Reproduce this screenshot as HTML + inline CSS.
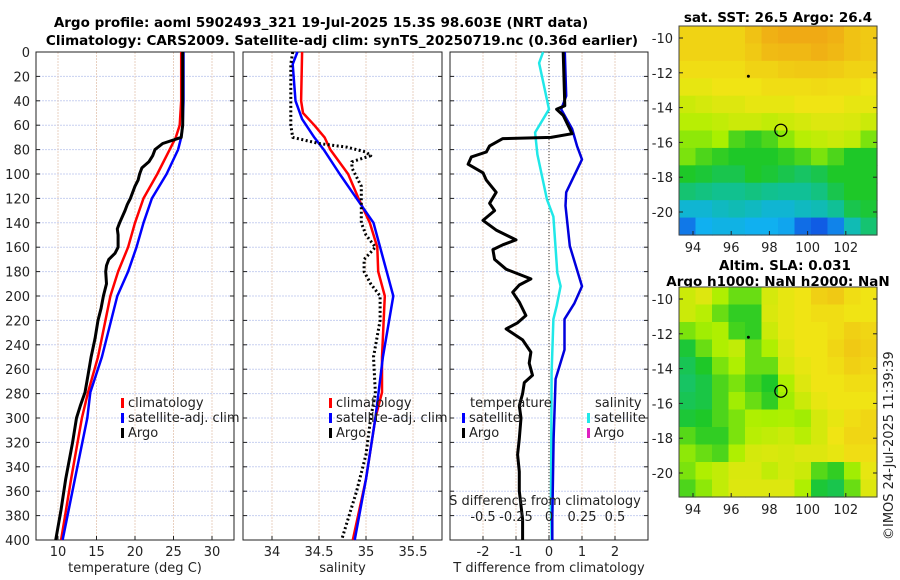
<!DOCTYPE html>
<html><head><meta charset="utf-8">
<style>
html,body{margin:0;padding:0;background:#fff;}
svg{display:block;font-family:"DejaVu Sans","Liberation Sans",sans-serif;}
.t{font-size:13px;fill:#222;}
.b{font-size:13.5px;font-weight:bold;fill:#000;}
</style></head>
<body>
<svg id="c" width="900" height="580" viewBox="0 0 900 580" xmlns="http://www.w3.org/2000/svg">
<text class="b" x="321" y="27" text-anchor="middle">Argo profile: aoml 5902493_321 19-Jul-2025 15.3S 98.603E (NRT data)</text>
<text class="b" x="342" y="45" text-anchor="middle">Climatology: CARS2009. Satellite-adj clim: synTS_20250719.nc (0.36d earlier)</text>
<text class="b" x="778" y="22" text-anchor="middle">sat. SST: 26.5 Argo: 26.4</text>
<text class="b" x="785" y="270" text-anchor="middle">Altim. SLA: 0.031</text>
<text class="b" x="778" y="286" text-anchor="middle">Argo h1000: NaN h2000: NaN</text>
<text class="t" transform="translate(893,540) rotate(-90)">©IMOS 24-Jul-2025 11:39:39</text>
<g id="g"></g>
</svg>
<script>
// ---- data ----
const depthTicks=[0,20,40,60,80,100,120,140,160,180,200,220,240,260,280,300,320,340,360,380,400];
const tempTicks=[10,15,20,25,30];
const salTicks=[34,34.5,35,35.5];
const tdiffTicks=[-2,-1,0,1,2];
const sdiffTicks=[-0.5,-0.25,0,0.25,0.5];
const sdiffTickLabels=["-0.5","-0.25","0","0.25","0.5"];

const climTDepth=[0,40,60,70,80,100,120,140,160,180,200,250,279,300,350,400];
const climTVal=[26.0,26.0,25.8,25.3,24.5,22.9,21.1,20.0,19.1,17.8,16.8,15.2,13.9,13.1,11.7,10.4];
const satTVal=[26.3,26.3,26.2,26.0,25.6,24.1,22.2,21.1,20.2,19.1,17.7,15.7,14.2,13.8,12.2,10.6];
const argoTDepth=[0,40,60,70,75,80,85,90,95,100,105,110,120,125,130,140,145,150,160,165,170,175,180,190,200,210,220,235,250,265,279,290,300,320,350,375,400];
const argoTVal=[26.2,26.2,26.2,26.0,23.6,22.6,22.3,21.8,20.9,20.6,20.4,20.0,19.4,19.0,18.7,18.0,17.7,17.8,17.8,17.4,16.6,16.3,16.2,16.3,15.9,15.6,15.2,14.8,14.3,13.9,13.5,12.9,12.4,11.9,11.0,10.4,9.7];

const climSDepth=[0,40,50,60,70,80,100,120,140,160,180,200,250,279,300,350,400];
const climSVal=[34.32,34.31,34.33,34.45,34.56,34.62,34.81,34.92,35.04,35.12,35.13,35.2,35.17,35.17,35.1,35.0,34.86];
const satSDepth=[0,10,40,55,70,80,100,120,140,160,180,200,250,300,350,400];
const satSVal=[34.27,34.22,34.25,34.32,34.45,34.55,34.72,34.9,35.08,35.15,35.22,35.29,35.18,35.1,35.0,34.88];
const argoSDepth=[0,10,60,70,75,78,82,85,90,95,110,120,140,150,160,170,180,190,200,220,250,280,300,330,360,400];
const argoSVal=[34.22,34.2,34.2,34.22,34.5,34.8,35.0,35.05,34.85,34.85,34.95,34.95,34.95,35.0,35.1,34.98,34.98,35.05,35.15,35.15,35.08,35.1,35.05,35.0,34.9,34.74];

const dSDepth=[0,9,47,66,84,121,135,181,192,208,219,263,373,400];
const dSVal=[-0.045,-0.075,0,-0.105,-0.088,-0.015,0.033,0.063,0.088,0.058,0.033,0.02,0.015,0.02];
const dTSatDepth=[0,36,47,63,77,88,115,126,159,192,206,219,244,268,317,383,400];
const dTSatVal=[0.48,0.52,0.37,0.7,0.85,1.0,0.52,0.5,0.63,1.0,0.77,0.47,0.47,0.2,0.14,0.1,0.1];
const dTArgoDepth=[0,44,47,52,67,70,71,77,82,86,92,99,105,115,124,130,138,146,154,158,162,170,178,186,191,197,205,216,222,227,236,246,255,265,271,280,290,300,317,330,344,360,383,400];
const dTArgoVal=[0.43,0.48,0.23,0.43,0.7,0.06,-1.4,-1.8,-1.9,-2.35,-2.45,-2.0,-1.9,-1.6,-1.8,-1.65,-2.0,-1.6,-1.0,-1.4,-1.7,-1.65,-1.3,-0.55,-0.9,-1.1,-0.9,-0.7,-0.95,-1.3,-0.8,-0.55,-0.6,-0.5,-0.75,-0.8,-0.9,-0.85,-0.9,-0.95,-0.9,-0.9,-0.8,-0.8];

const lonTicks=[94,96,98,100,102];
const latTicks=[-10,-12,-14,-16,-18,-20];
const sstGrid=[
[0.85,0.85,0.85,0.85,0.9,0.95,0.97,0.97,0.97,0.95,0.9,0.88],
[0.85,0.85,0.85,0.85,0.88,0.92,0.93,0.93,0.95,0.93,0.9,0.88],
[0.82,0.82,0.82,0.82,0.85,0.85,0.87,0.88,0.88,0.87,0.85,0.85],
[0.78,0.78,0.8,0.8,0.8,0.82,0.82,0.82,0.83,0.82,0.82,0.8],
[0.72,0.74,0.76,0.76,0.78,0.78,0.78,0.8,0.8,0.8,0.78,0.78],
[0.68,0.68,0.7,0.72,0.72,0.7,0.72,0.74,0.76,0.76,0.75,0.72],
[0.62,0.62,0.65,0.55,0.52,0.55,0.62,0.68,0.7,0.72,0.7,0.6],
[0.6,0.55,0.52,0.5,0.5,0.5,0.52,0.55,0.6,0.55,0.5,0.5],
[0.5,0.48,0.45,0.45,0.5,0.48,0.45,0.42,0.45,0.5,0.5,0.5],
[0.4,0.38,0.36,0.36,0.38,0.36,0.35,0.35,0.38,0.45,0.5,0.5],
[0.25,0.25,0.28,0.3,0.28,0.25,0.25,0.28,0.3,0.35,0.45,0.48],
[0.1,0.2,0.22,0.22,0.2,0.2,0.18,0.08,0.05,0.12,0.3,0.4]];
const slaGrid=[
[0.72,0.76,0.66,0.58,0.58,0.74,0.78,0.8,0.86,0.88,0.82,0.8],
[0.72,0.68,0.58,0.52,0.52,0.75,0.78,0.8,0.82,0.82,0.8,0.8],
[0.6,0.64,0.66,0.54,0.52,0.72,0.78,0.8,0.8,0.82,0.86,0.84],
[0.48,0.58,0.66,0.7,0.58,0.66,0.76,0.8,0.8,0.84,0.88,0.86],
[0.44,0.5,0.6,0.66,0.58,0.58,0.74,0.78,0.8,0.82,0.86,0.84],
[0.42,0.46,0.55,0.6,0.54,0.5,0.66,0.76,0.8,0.8,0.82,0.82],
[0.44,0.46,0.55,0.64,0.58,0.52,0.64,0.72,0.78,0.8,0.8,0.8],
[0.48,0.5,0.55,0.6,0.66,0.65,0.66,0.64,0.74,0.78,0.82,0.84],
[0.56,0.52,0.52,0.6,0.68,0.7,0.72,0.68,0.74,0.8,0.84,0.84],
[0.62,0.58,0.55,0.66,0.74,0.75,0.74,0.76,0.76,0.78,0.82,0.82],
[0.6,0.66,0.7,0.75,0.75,0.7,0.74,0.72,0.56,0.52,0.64,0.78],
[0.55,0.62,0.7,0.76,0.76,0.76,0.76,0.66,0.48,0.45,0.58,0.76]];
const argoLon=98.6, argoLat=-15.3, prevLon=96.9, prevLat=-12.2;

// ---- drawing ----
const NS='http://www.w3.org/2000/svg';
const G=document.getElementById('g');
function mk(tag,attrs,parent){const e=document.createElementNS(NS,tag);for(const k in attrs)e.setAttribute(k,attrs[k]);(parent||G).appendChild(e);return e;}
function txt(x,y,s,anchor,parent){const e=mk('text',{x:x,y:y,'text-anchor':anchor||'middle',class:'t'},parent);e.textContent=s;return e;}

const PT=52,PB=540;
const yD=d=>PT+d*(PB-PT)/400;
const xT=v=>58+(v-10)*7.7;
const xS=v=>272+(v-34)*94;
const xDT=v=>549+v*33;
const xDS=v=>549+v*4*33;

function panel(name,x0,x1,xticks,xf,labels,title){
  const g=mk('g',{});
  
  
  depthTicks.forEach(d=>{
    const l=mk('line',{x1:x0,x2:x1,y1:yD(d),y2:yD(d),stroke:'#c8d0f0','stroke-width':1,'stroke-dasharray':'2,1'},g);
    
    mk('line',{x1:x0,x2:x0+4,y1:yD(d),y2:yD(d),stroke:'#222'},g);
    mk('line',{x1:x1-4,x2:x1,y1:yD(d),y2:yD(d),stroke:'#222'},g);
  });
  xticks.forEach((v,i)=>{
    const l=mk('line',{x1:xf(v),x2:xf(v),y1:PT,y2:PB,stroke:'#e8d0c0','stroke-width':1,'stroke-dasharray':'2,1'},g);
    
    mk('line',{x1:xf(v),x2:xf(v),y1:PB-4,y2:PB,stroke:'#222'},g);
    const t=txt(xf(v),556,labels[i],'middle',g);
    
  });
  const f=mk('rect',{x:x0,y:PT,width:x1-x0,height:PB-PT,fill:'none',stroke:'#222','stroke-width':1},g);
  
  const at=txt((x0+x1)/2,572,title,'middle',g);
  
  return g;
}
function line(g,ds,vs,xf,color,w,dash,name){
  const p=ds.map((d,i)=>(i?'L':'M')+xf(vs[i]).toFixed(1)+','+yD(d).toFixed(1)).join('');
  const e=mk('path',{d:p,fill:'none',stroke:color,'stroke-width':w,'stroke-linejoin':'round'},g);
  if(dash)e.setAttribute('stroke-dasharray',dash);
  
  
}
function legend(g,x,y,items){
  items.forEach((it,i)=>{
    const r=mk('rect',{x:x,y:y+i*15-9,width:3,height:10,fill:it[1]},g);
    
    const t=txt(x+7,y+i*15,it[0],'start',g);
    
  });
}

// Panel 1
const g1=panel('temperature-panel',36,234,tempTicks,xT,tempTicks.map(String),'temperature (deg C)');
depthTicks.forEach(d=>{const t=txt(30,yD(d)+5,String(d),'end',g1);});
line(g1,climTDepth,climTVal,xT,'#ff0000',2.5,null,'temp-climatology-line');
line(g1,climTDepth,satTVal,xT,'#0000ff',2.5,null,'temp-satellite-line');
line(g1,argoTDepth,argoTVal,xT,'#000',3,null,'temp-argo-line');
legend(g1,121,407,[['climatology','#f00'],['satellite-adj. clim','#00f'],['Argo','#000']]);

// Panel 2
const g2=panel('salinity-panel',243,442,salTicks,xS,salTicks.map(String),'salinity');
line(g2,climSDepth,climSVal,xS,'#ff0000',2.5,null,'sal-climatology-line');
line(g2,satSDepth,satSVal,xS,'#0000ff',2.5,null,'sal-satellite-line');
line(g2,argoSDepth,argoSVal,xS,'#000',3,'2,2.5','sal-argo-line');
legend(g2,329,407,[['climatology','#f00'],['satellite-adj. clim','#00f'],['Argo','#000']]);

// Panel 3
const g3=panel('difference-panel',450,648,tdiffTicks,xDT,tdiffTicks.map(String),'T difference from climatology');
const zl=mk('line',{x1:xDT(0),x2:xDT(0),y1:PT,y2:PB,stroke:'#333','stroke-dasharray':'1,2'},g3);

line(g3,dSDepth,dSVal,xDS,'#20e8e8',2.5,null,'sal-diff-satellite-line');
line(g3,dTSatDepth,dTSatVal,xDT,'#0000dd',2.5,null,'temp-diff-satellite-line');
line(g3,dTArgoDepth,dTArgoVal,xDT,'#000',3,null,'temp-diff-argo-line');
let tt=txt(470,407,'temperature','start',g3);
tt=txt(595,407,'salinity','start',g3);
legend(g3,462,422,[['satellite','#00f'],['Argo','#000']]);
legend(g3,587,422,[['satellite','#20e8e8'],['Argo','#e020c0']]);
tt=txt(545,505,'S difference from climatology','middle',g3);
sdiffTicks.forEach((v,i)=>{const t=txt(xDS(v),521,sdiffTickLabels[i],'middle',g3);});

// Maps
function cmap(v){
  const stops=[[0,[16,64,224]],[0.2,[16,176,240]],[0.35,[16,192,150]],[0.5,[30,200,40]],[0.65,[170,240,0]],[0.8,[240,228,20]],[1,[240,160,20]]];
  for(let i=1;i<stops.length;i++){if(v<=stops[i][0]){const a=stops[i-1],b=stops[i],t=(v-a[0])/(b[0]-a[0]);return 'rgb('+a[1].map((c,k)=>Math.round(c+(b[1][k]-c)*t)).join(',')+')';}}
  return 'rgb(240,160,20)';
}
function map(name,y0,y1,grid,lat10y,lat20y,lonY){
  const x0=679,x1=877;
  const g=mk('g',{});
  
  const xL=lon=>693+(lon-94)*19.1;
  const yL=lat=>lat10y+(-10-lat)*(lat20y-lat10y)/10;
  const nr=grid.length,nc=grid[0].length,cw=(x1-x0)/nc,ch=(y1-y0)/nr;
  grid.forEach((row,r)=>row.forEach((v,c)=>{
    const e=mk('rect',{x:(x0+c*cw).toFixed(2),y:(y0+r*ch).toFixed(2),width:(cw+0.6).toFixed(2),height:(ch+0.6).toFixed(2),fill:cmap(v)},g);
    
  }));
  mk('rect',{x:x0,y:y0,width:x1-x0,height:y1-y0,fill:'none',stroke:'#444'},g);
  latTicks.forEach(l=>{mk('line',{x1:x0,x2:x0+4,y1:yL(l),y2:yL(l),stroke:'#222'},g);mk('line',{x1:x1-4,x2:x1,y1:yL(l),y2:yL(l),stroke:'#222'},g);
    const t=txt(673,yL(l)+5,String(l),'end',g);});
  lonTicks.forEach(l=>{mk('line',{x1:xL(l),x2:xL(l),y1:y1-4,y2:y1,stroke:'#222'},g);
    const t=txt(xL(l),lonY,String(l),'middle',g);});
  const c=mk('circle',{cx:xL(argoLon),cy:yL(argoLat),r:6,fill:'none',stroke:'#000','stroke-width':1.3},g);
  
  const p=mk('circle',{cx:xL(prevLon),cy:yL(prevLat),r:1.5,fill:'#000'},g);
  
}
map('sst-map',26,235,sstGrid,38,212,252);
map('sla-map',287,497,slaGrid,299,473,514);
</script>
</body></html>
